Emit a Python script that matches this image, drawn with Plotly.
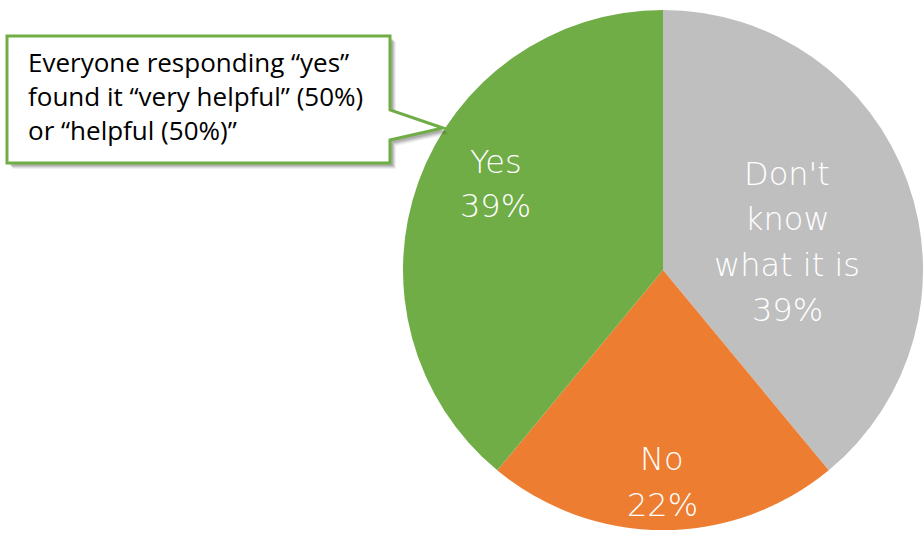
import plotly.graph_objects as go

labels = ["Don't know what it is", "No", "Yes"]
values = [39, 22, 39]
colors = ["#BFBFBF", "#ED7D31", "#70AD47"]
label_lines = [["Don't", "know", "what it is"], ["No"], ["Yes"]]
callout_lines = ["Everyone responding \u201cyes\u201d",
                 "found it \u201cvery helpful\u201d (50%)",
                 "or \u201chelpful (50%)\u201d"]

W, H = 923, 533
total = sum(values)

def px(x):
    return x / W

def py(y):
    return 1 - y / H

fig = go.Figure()
fig.add_trace(go.Pie(
    labels=labels,
    values=values,
    sort=False,
    direction="clockwise",
    rotation=0,
    marker=dict(colors=colors, line=dict(width=0)),
    textinfo="none",
    hoverinfo="skip",
    showlegend=False,
    domain=dict(x=[403 / W, 1], y=[0, 0.9868]),
))

# slice labels (text built from data); first line middle and pitch per slice
label_pos = [(787, 174, 45.3), (662, 459, 46), (496, 162, 44)]
annotations = []
for lines, v, (x, y0, pitch) in zip(label_lines, values, label_pos):
    all_lines = lines + [f"{round(100 * v / total)}%"]
    for i, t in enumerate(all_lines):
        annotations.append(dict(
            x=px(x), y=py(y0 + i * pitch), xref="paper", yref="paper",
            text=t, showarrow=False, xanchor="center", yanchor="middle",
            align="center",
            font=dict(family="DejaVu Sans", size=32, color="white", weight=200),
        ))

# callout text
line_mid = [62, 96, 130]
for t, y in zip(callout_lines, line_mid):
    annotations.append(dict(
        x=px(26), y=py(y), xref="paper", yref="paper",
        text=t, showarrow=False, xanchor="left", yanchor="middle",
        align="left",
        font=dict(family="Open Sans", size=26, color="black"),
    ))

def callout_path(dx=0, dy=0):
    pts = [(7, 36), (390, 36), (390, 110), (443, 128), (390, 140), (390, 163), (7, 163)]
    s = ""
    for i, (x, y) in enumerate(pts):
        s += ("M" if i == 0 else "L") + f"{px(x + dx)},{py(y + dy)} "
    return s + "Z"

shapes = []
for k, op in [(6, 0.06), (5, 0.08), (4, 0.1), (3, 0.12)]:
    shapes.append(dict(type="path", path=callout_path(k, k), xref="paper", yref="paper",
                       fillcolor=f"rgba(0,0,0,{op})", line=dict(width=0), layer="above"))
shapes.append(dict(type="path", path=callout_path(), xref="paper", yref="paper",
                   fillcolor="white", line=dict(color="#70AD47", width=3), layer="above"))

fig.update_layout(
    width=W, height=H,
    margin=dict(l=0, r=0, t=0, b=0),
    paper_bgcolor="white", plot_bgcolor="white",
    annotations=annotations,
    shapes=shapes,
)

fig.write_html("out.html")
